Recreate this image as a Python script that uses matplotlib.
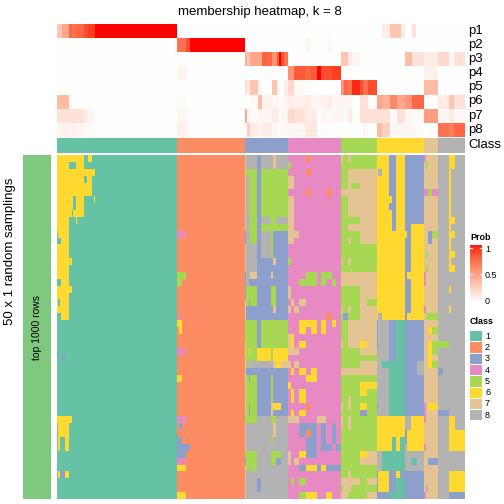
import matplotlib
matplotlib.use("Agg")
import matplotlib.pyplot as plt
import numpy as np
from matplotlib.colors import ListedColormap

plt.rcParams['font.family'] = ['Liberation Sans', 'DejaVu Sans']

W = H = 504

class_names = ["1", "2", "3", "4", "5", "6", "7", "8"]
class_colors = ["#66C2A5", "#FC8D62", "#8DA0CB", "#E78AC3",
                "#A6D854", "#FFD92F", "#E5C494", "#B3B3B3"]
class_sizes = [88, 50, 32, 39, 26, 35, 10, 20]
prob_labels = ["p1", "p2", "p3", "p4", "p5", "p6", "p7", "p8"]
n_rows = 50

# main heatmap, one entry per run of samples: (samples, "class:rows ...") top to bottom
strips_1 = [
    (1, "6:11 1:2 6:5 1:1 6:4 1:15 6:1 1:11"),
    (1, "6:12 1:1 6:5 1:1 6:2 1:1 6:1 1:15 6:5 1:3 6:1 1:3"),
    (1, "6:12 1:1 6:5 1:1 6:4 1:15 6:3 1:5 3:1 1:3"),
    (3, "6:24 1:5 3:1 1:8 6:3 1:5 3:1 1:3"),
    (3, "6:24 1:14 6:5 1:3 6:1 1:3"),
    (2, "6:1 1:1 6:7 1:6 6:1 1:3 6:1 1:18 6:1 1:11"),
    (1, "6:1 1:1 6:6 1:42"),
    (2, "6:1 1:1 6:4 1:2 6:1 1:41"),
    (1, "6:10 1:40"),
    (5, "6:9 1:41"),
    (2, "1:2 6:1 1:1 6:2 1:44"),
    (1, "1:2 6:4 1:44"),
    (3, "6:1 1:1 6:4 1:44"),
    (1, "1:2 6:1 1:47"),
    (1, "1:2 6:1 1:3 6:1 1:43"),
    (60, "1:50"),
]
strips_2 = [
    (2, "2:11 4:1 2:5 5:2 2:5 6:1 2:3 4:1 2:3 6:1 2:5 4:1 2:2 3:3 4:1 6:1 2:3 6:1"),
    (2, "2:11 4:1 2:5 5:2 2:4 4:1 6:2 2:2 4:1 2:3 6:1 2:5 4:1 3:1 2:1 3:3 4:1 6:1 2:3 6:1"),
    (1, "2:17 5:1 2:20 4:1 2:3 3:2 2:1 6:1 2:3 6:1"),
    (2, "2:11 4:1 2:5 5:1 2:10 4:1 2:9 4:1 2:3 3:2 4:1 6:1 2:3 6:1"),
    (3, "2:42 3:1 2:7"),
    (40, "2:50"),
]
strips_3 = [
    (1, "7:11 3:2 7:4 3:4 7:3 5:3 7:1 6:1 7:1 6:1 7:5 6:1 7:1 5:1 7:4 5:1 3:1 7:5"),
    (2, "8:2 5:1 8:16 5:3 3:2 5:6 8:1 3:1 5:7 8:4 5:3 8:4"),
    (1, "8:2 5:7 8:1 5:1 8:7 3:1 5:2 3:3 5:4 6:1 5:2 3:2 5:3 3:2 5:1 8:4 5:2 8:5"),
    (5, "8:2 5:11 8:4 7:1 3:1 5:3 3:2 5:6 8:1 3:1 5:7 8:4 5:3 8:4"),
    (3, "3:28 6:2 8:1 3:7 8:9 3:2 8:1"),
    (7, "8:2 5:7 8:1 5:1 8:4 3:9 5:4 6:2 8:1 3:7 8:12"),
    (2, "8:2 5:13 3:2 7:1 3:1 5:3 3:2 5:6 8:1 3:1 5:4 7:2 5:1 8:2 5:1 8:1 5:2 8:5"),
    (2, "7:2 5:9 3:4 7:1 3:3 5:3 7:1 3:1 5:4 6:2 7:1 3:5 6:1 3:1 5:1 7:2 8:2 5:2 8:5"),
    (4, "8:2 5:7 8:1 5:1 3:13 5:4 6:3 3:5 6:1 3:1 8:5 5:1 3:1 8:5"),
    (5, "8:2 5:7 8:1 5:1 3:13 5:4 6:2 7:1 3:7 8:12"),
]
strips_4 = [
    (2, "4:1 5:1 4:1 7:2 4:1 7:7 4:2 5:1 4:3 7:2 4:1 7:1 4:3 7:3 4:1 7:1 4:2 6:1 4:4 7:1 4:4 7:2 4:5"),
    (2, "4:3 7:2 4:1 7:7 4:8 7:1 4:4 6:2 7:1 4:2 6:1 4:2 6:2 4:1 6:1 7:1 4:8 5:1 4:2"),
    (4, "4:11 7:1 4:10 7:1 4:5 7:1 4:1 7:1 4:7 7:1 4:5 7:1 4:5"),
    (5, "4:18 5:1 4:2 7:1 4:2 6:2 4:1 6:1 4:3 6:1 4:2 6:2 4:1 6:1 4:1 3:2 4:2 6:1 4:1 3:1 4:1 5:1 4:1 5:1"),
    (4, "2:1 4:1 2:1 4:2 2:1 4:11 5:2 4:5 6:1 4:7 6:1 4:3 2:1 4:2 3:1 2:1 3:3 4:1 6:1 4:3 6:1"),
    (4, "4:17 5:2 4:5 6:2 4:5 6:2 4:6 3:5 4:1 6:1 4:3 6:1"),
    (3, "4:38 7:1 4:6 3:1 4:4"),
    (4, "4:17 5:2 4:5 6:2 4:12 7:1 3:4 4:2 6:1 4:4"),
    (4, "4:5 2:1 4:11 5:1 4:5 2:1 4:18 3:1 4:2 3:1 4:3 6:1"),
    (3, "4:18 5:1 4:5 6:1 4:14 3:3 4:3 3:1 4:4"),
    (4, "4:42 3:1 4:2 3:1 4:4"),
]
strips_5 = [
    (1, "7:1 5:4 7:1 5:9 7:1 5:1 7:2 5:3 7:1 5:4 7:1 5:3 7:1 5:4 7:1 5:1 7:2 5:7 7:1 5:1 7:1"),
    (4, "5:5 7:1 5:11 7:2 5:4 3:1 5:7 7:1 5:15 7:3"),
    (2, "7:1 5:1 7:7 5:1 7:1 5:1 7:1 5:2 7:1 5:1 7:2 5:3 7:1 5:1 7:4 5:3 7:1 5:3 7:2 5:1 7:2 5:6 7:3 5:1"),
    (7, "5:2 7:2 5:1 7:4 5:1 7:1 5:6 7:2 5:5 7:4 5:3 7:1 5:15 7:1 5:2"),
    (5, "5:2 7:11 5:4 7:10 6:1 7:1 5:1 7:2 5:1 6:2 5:1 6:1 3:1 5:5 6:1 7:1 5:5"),
    (7, "5:2 7:11 5:4 7:4 5:1 7:7 5:1 7:2 5:1 6:1 5:9 7:2 5:2 7:1 5:1 7:1"),
]
strips_6 = [
    (1, "6:24 3:4 8:8 3:1 8:1 6:5 8:3 3:4"),
    (3, "6:2 8:1 6:20 8:15 6:5 8:3 6:3 3:1"),
    (5, "6:24 8:6 1:1 8:7 6:5 1:3 6:3 3:1"),
    (2, "3:6 6:1 3:1 6:16 3:6 1:8 6:5 1:3 3:3 1:1"),
    (3, "3:11 6:13 3:6 1:8 6:3 1:5 3:3 1:1"),
    (3, "6:24 1:14 6:5 1:3 6:1 1:3"),
    (4, "6:24 1:14 6:3 1:5 3:1 1:3"),
    (1, "3:11 6:1 3:26 8:2 3:2 8:4 3:4"),
    (3, "3:17 6:1 3:5 6:1 3:14 8:2 6:3 8:3 3:4"),
    (5, "3:10 6:14 3:14 6:5 8:1 1:1 8:1 3:4"),
    (5, "3:10 6:14 3:6 8:2 3:6 6:5 8:3 3:4"),
]
strips_7 = [
    (1, "4:1 7:4 4:1 7:11 4:2 7:3 4:1 7:13 4:3 7:3 4:1 7:6 4:1"),
    (2, "7:1 5:1 7:3 4:1 7:8 5:1 7:1 5:1 7:6 5:1 7:24 8:1 7:1"),
    (3, "7:5 5:1 7:5 3:2 7:10 5:1 7:1 6:1 7:1 6:4 7:5 6:1 7:7 3:1 7:5"),
    (4, "7:5 4:1 7:5 5:1 7:11 5:1 7:1 5:1 7:1 5:2 7:1 5:1 7:5 6:1 7:7 3:1 7:5"),
]
strips_8 = [
    (4, "8:27 5:1 8:3 3:1 8:5 3:1 8:12"),
    (4, "8:27 5:1 8:9 3:1 8:12"),
    (2, "6:17 8:2 6:1 8:2 6:1 8:15 6:5 8:3 6:3 3:1"),
    (3, "6:2 8:7 6:1 8:1 6:1 8:2 6:1 8:1 6:1 8:21 6:5 8:3 6:3 3:1"),
    (7, "8:40 6:3 8:3 6:3 3:1"),
]

# membership probabilities: (samples, [p1..p8])
prob_1 = [
    (4, [0.3, 0, 0, 0, 0, 0.35, 0.15, 0.05]),
    (5, [0.45, 0, 0, 0, 0, 0.35, 0.15, 0.08]),
    (2, [0.75, 0, 0, 0, 0, 0.05, 0.15, 0.05]),
    (3, [0.7, 0, 0, 0, 0, 0, 0.15, 0.08]),
    (6, [0.75, 0, 0, 0, 0, 0, 0.15, 0.05]),
    (3, [0.85, 0, 0, 0, 0, 0, 0.1, 0.03]),
    (5, [0.9, 0, 0, 0, 0, 0, 0.05, 0.02]),
    (60, [1.0, 0, 0, 0, 0, 0, 0, 0]),
]
prob_2 = [
    (7, [0, 0.7, 0, 0.06, 0, 0.02, 0.05, 0.08]),
    (3, [0, 0.85, 0, 0.02, 0, 0, 0.03, 0.03]),
    (40, [0, 1.0, 0, 0, 0, 0, 0, 0]),
]
prob_3 = [
    (2, [0, 0, 0.4, 0, 0.15, 0, 0.45, 0.05]),
    (2, [0, 0, 0.3, 0, 0.1, 0, 0.05, 0.25]),
    (6, [0, 0, 0.45, 0, 0.3, 0.02, 0.03, 0.1]),
    (3, [0, 0, 0.45, 0, 0.05, 0.35, 0.05, 0.05]),
    (7, [0, 0, 0.75, 0, 0, 0.08, 0.05, 0.1]),
    (4, [0, 0, 0.55, 0, 0.3, 0.03, 0.1, 0.05]),
    (1, [0, 0, 0.8, 0, 0.05, 0.05, 0.1, 0.02]),
    (2, [0, 0, 1.0, 0, 0, 0, 0, 0]),
    (2, [0, 0, 0.85, 0, 0, 0.03, 0.05, 0.03]),
    (3, [0, 0, 0.7, 0, 0.1, 0.05, 0.05, 0.03]),
]
prob_4 = [
    (4, [0, 0, 0, 0.55, 0.2, 0.1, 0.2, 0.05]),
    (8, [0, 0, 0, 0.8, 0.03, 0.08, 0.15, 0.05]),
    (5, [0, 0.05, 0, 0.75, 0, 0.1, 0.1, 0.12]),
    (4, [0, 0, 0, 0.8, 0, 0.05, 0.1, 0.12]),
    (3, [0, 0, 0, 1.0, 0, 0.05, 0, 0]),
    (5, [0, 0, 0, 0.85, 0, 0.08, 0.05, 0.02]),
    (3, [0, 0.05, 0, 0.85, 0, 0.1, 0.03, 0]),
    (7, [0, 0, 0, 0.9, 0, 0.05, 0.05, 0]),
]
prob_5 = [
    (2, [0, 0, 0.3, 0, 0.55, 0.05, 0.05, 0]),
    (3, [0, 0, 0.3, 0, 0.75, 0.03, 0.02, 0]),
    (3, [0, 0, 0.1, 0, 0.7, 0.05, 0.1, 0]),
    (6, [0, 0, 0.05, 0, 0.95, 0, 0.02, 0]),
    (2, [0, 0, 0, 0, 0.85, 0.15, 0.15, 0]),
    (4, [0, 0, 0, 0, 0.7, 0.15, 0.15, 0.05]),
    (6, [0, 0, 0, 0, 0.85, 0.02, 0.15, 0]),
]
prob_6 = [
    (4, [0, 0, 0, 0, 0, 0.45, 0.15, 0.35]),
    (6, [0.1, 0, 0, 0, 0, 0.4, 0.15, 0.25]),
    (5, [0.3, 0, 0, 0, 0, 0.6, 0.03, 0.05]),
    (3, [0.3, 0, 0, 0, 0, 0.45, 0.15, 0.05]),
    (3, [0.1, 0, 0, 0, 0, 0.45, 0.15, 0.05]),
    (5, [0, 0, 0.35, 0, 0, 0.55, 0.05, 0.05]),
    (3, [0.15, 0, 0.15, 0, 0, 0.75, 0.03, 0.05]),
    (6, [0, 0, 0.15, 0, 0, 0.75, 0.03, 0.02]),
]
prob_7 = [
    (10, [0, 0, 0.1, 0.08, 0.35, 0, 0.5, 0]),
]
prob_8 = [
    (8, [0, 0, 0.2, 0, 0, 0.1, 0.05, 0.7]),
    (4, [0, 0, 0.05, 0, 0, 0.3, 0.1, 0.65]),
    (8, [0, 0, 0.15, 0, 0, 0.15, 0.03, 0.75]),
]


def expand(rle):
    out = []
    for tok in rle.split():
        c, n = tok.split(":")
        out += [int(c)] * int(n)
    return out


all_strips = strips_1 + strips_2 + strips_3 + strips_4 + strips_5 + strips_6 + strips_7 + strips_8
cols = []
for width, rle in all_strips:
    col = expand(rle)
    assert len(col) == n_rows, rle
    cols += [col] * width
main = np.array(cols).T

pcols = []
for width, vals in prob_1 + prob_2 + prob_3 + prob_4 + prob_5 + prob_6 + prob_7 + prob_8:
    pcols += [vals] * width
prob = np.array(pcols).T

cls_row = np.repeat(np.arange(1, 9), class_sizes)[None, :]
n_cols = cls_row.shape[1]


def lab_to_rgb(L, a, b):
    fy = (L + 16) / 116
    fx = fy + a / 500
    fz = fy - b / 200

    def finv(t):
        return t ** 3 if t ** 3 > 0.008856 else (t - 16 / 116) / 7.787
    X, Y, Z = 0.95047 * finv(fx), finv(fy), 1.08883 * finv(fz)
    rgb = [3.2406 * X - 1.5372 * Y - 0.4986 * Z,
           -0.9689 * X + 1.8758 * Y + 0.0415 * Z,
           0.0557 * X - 0.2040 * Y + 1.0570 * Z]
    out = []
    for c in rgb:
        c = min(max(c, 0), 1)
        out.append(12.92 * c if c <= 0.0031308 else 1.055 * c ** (1 / 2.4) - 0.055)
    return [min(max(c, 0), 1) for c in out]


ts = np.linspace(0, 1, 256)
prob_cmap = ListedColormap([lab_to_rgb(100 - 46.76 * t, 80.09 * t, 67.20 * t) for t in ts])
class_cmap = ListedColormap(class_colors)


def box(x0, y0, x1, y1):
    return [x0 / W, 1 - y1 / H, (x1 - x0) / W, (y1 - y0) / H]


def px(x, y):
    return x / W, 1 - y / H


fig = plt.figure(figsize=(W / 100, H / 100), dpi=100)

hx0, hx1 = 57.3, 465
ax_p = fig.add_axes(box(hx0, 24, hx1, 136.7))
ax_p.imshow(prob, cmap=prob_cmap, vmin=0, vmax=1, aspect='auto', interpolation='nearest')
ax_c = fig.add_axes(box(hx0, 138, hx1, 152.7))
ax_c.imshow(cls_row, cmap=class_cmap, vmin=0.5, vmax=8.5, aspect='auto', interpolation='nearest')
ax_m = fig.add_axes(box(hx0, 155, hx1, 499))
ax_m.imshow(main, cmap=class_cmap, vmin=0.5, vmax=8.5, aspect='auto', interpolation='nearest')
ax_l = fig.add_axes(box(23, 155, 51, 499))
ax_l.add_patch(plt.Rectangle((0, 0), 1, 1, color="#7FC97F"))
ax_l.set_xlim(0, 1)
ax_l.set_ylim(0, 1)
for ax in (ax_p, ax_c, ax_m, ax_l):
    ax.set_axis_off()

fig.text(*px(260, 12), "membership heatmap, k = 8", ha='center', va='center', fontsize=9.5)
row_h = (136.7 - 24) / 8
for i, lab in enumerate(prob_labels):
    fig.text(*px(468, 24 + row_h * (i + 0.5)), lab, ha='left', va='center', fontsize=9.5)
fig.text(*px(468, 145.5), "Class", ha='left', va='center', fontsize=9.5)
fig.text(*px(10, 251), "50 x 1 random samplings", rotation=90, ha='center', va='center', fontsize=9.5)
fig.text(*px(37, 327), "top 1000 rows", rotation=90, ha='center', va='center', fontsize=7.5)

# legends
fig.text(*px(470, 238), "Prob", ha='left', va='center', fontsize=6.5, fontweight='bold')
ax_cb = fig.add_axes(box(470, 245, 482, 302))
ax_cb.imshow(ts[:, None], cmap=prob_cmap, origin='lower', aspect='auto', extent=(0, 1, 0, 1))
for v in (0.05, 0.5, 0.95):
    ax_cb.plot([0, 0.18], [v, v], color='white', lw=0.8)
    ax_cb.plot([0.82, 1], [v, v], color='white', lw=0.8)
ax_cb.set_xlim(0, 1)
ax_cb.set_ylim(0, 1)
ax_cb.set_axis_off()
for lab, y in (("1", 249), ("0.5", 275), ("0", 301)):
    fig.text(*px(485, y), lab, ha='left', va='center', fontsize=6.5)

fig.text(*px(470, 321), "Class", ha='left', va='center', fontsize=6.5, fontweight='bold')
step = 11.3
for i, (name, color) in enumerate(zip(class_names, class_colors)):
    y0 = 330.5 + step * i
    a = fig.add_axes(box(470, y0 + 0.5, 482, y0 + step - 0.5))
    a.add_patch(plt.Rectangle((0, 0), 1, 1, color=color))
    a.set_xlim(0, 1)
    a.set_ylim(0, 1)
    a.set_axis_off()
    fig.text(*px(485, y0 + step / 2), name, ha='left', va='center', fontsize=6.5)

fig.savefig("out.png", dpi=100)
